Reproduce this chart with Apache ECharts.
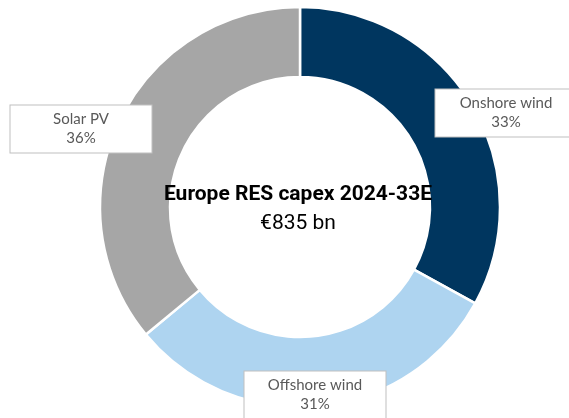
<!DOCTYPE html>
<html>
<head>
<meta charset="utf-8">
<script src="https://cdn.jsdelivr.net/npm/echarts@6/dist/echarts.min.js"></script>
<style>
  html, body { margin: 0; padding: 0; background: #fff; }
  #chart { width: 569px; height: 418px; }
</style>
</head>
<body>
<div id="chart"></div>
<script>
// Capex split by technology (share of total, %)
const categories = ['Onshore wind', 'Offshore wind', 'Solar PV'];
const shares = [33, 31, 36];
const titleText = 'Europe RES capex 2024-33E';
const subText = '€835 bn';

const colors = ['#00365F', '#AED4F0', '#A6A6A6'];

// Anchor points of the callout boxes (box centres, in px)
const labelAnchors = [
  [506, 113],
  [315, 395],
  [81, 129]
];

const chart = echarts.init(document.getElementById('chart'), null, { renderer: 'canvas' });

chart.setOption({
  animation: false,
  title: {
    text: titleText,
    subtext: subText,
    left: 298,
    top: 181,
    textAlign: 'center',
    padding: 0,
    itemGap: 1,
    textStyle: {
      fontFamily: 'Roboto',
      fontWeight: 'bold',
      fontSize: 21,
      lineHeight: 28,
      color: '#000'
    },
    subtextStyle: {
      fontFamily: 'Roboto',
      fontWeight: 'normal',
      fontSize: 21,
      lineHeight: 28,
      color: '#000'
    }
  },
  series: [{
    type: 'pie',
    center: [300, 207],
    radius: [130, 200],
    startAngle: 90,
    clockwise: true,
    avoidLabelOverlap: false,
    data: categories.map((name, i) => ({
      name: name,
      value: shares[i],
      itemStyle: { color: colors[i] }
    })),
    itemStyle: {
      borderColor: '#fff',
      borderWidth: 2.5
    },
    label: {
      show: true,
      position: 'outside',
      formatter: p => p.name + '\n' + p.value + '%',
      fontFamily: 'Lato',
      fontSize: 15,
      lineHeight: 19,
      color: '#595959',
      backgroundColor: '#fff',
      borderColor: '#BFBFBF',
      borderWidth: 1,
      width: 141,
      align: 'center',
      padding: [6, 0, 3, 0]
    },
    labelLine: { show: false },
    labelLayout: function (params) {
      const a = labelAnchors[params.dataIndex];
      return { x: a[0], y: a[1], align: 'center', verticalAlign: 'middle' };
    },
    emphasis: { disabled: true }
  }]
});
</script>
</body>
</html>
